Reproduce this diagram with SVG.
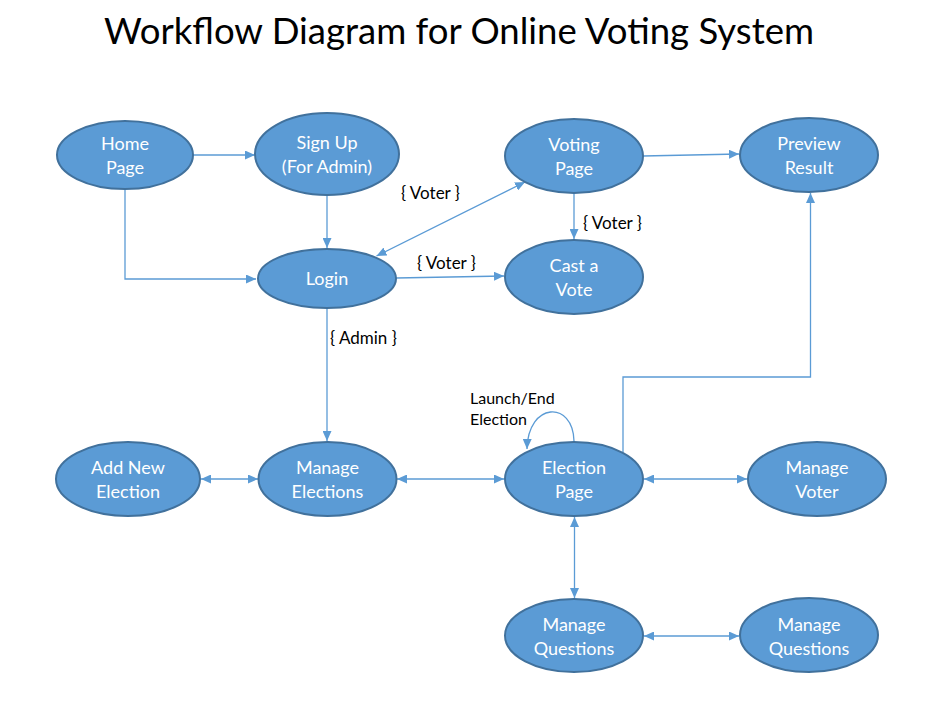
<svg xmlns="http://www.w3.org/2000/svg" width="951" height="715" viewBox="0 0 951 715">
<defs>
<marker id="arr" markerUnits="userSpaceOnUse" markerWidth="11" markerHeight="9" refX="10" refY="4.5" orient="auto-start-reverse" viewBox="0 0 11 9">
<path d="M0,0 L10,4.5 L0,9 z" fill="#5B9BD5"/>
</marker>
<style>
.node ellipse{fill:#5B9BD5;stroke:#41719C;stroke-width:2}
.node text{fill:#fff;font-family:Lato,"Liberation Sans",sans-serif;font-size:18px;text-anchor:middle}
.conn path{fill:none;stroke:#5B9BD5;stroke-width:1.3}
.one{marker-end:url(#arr)}
.two{marker-start:url(#arr);marker-end:url(#arr)}
.lbl{fill:#000;font-family:Lato,"Liberation Sans",sans-serif;font-size:17px}
.lbl2{fill:#000;font-family:Lato,"Liberation Sans",sans-serif;font-size:16px}
.title{fill:#000;font-family:Lato,"Liberation Sans",sans-serif;font-size:36px;text-anchor:middle}
</style>
</defs>
<rect width="951" height="715" fill="#fff"/>
<text class="title" x="459" y="44" textLength="710" lengthAdjust="spacingAndGlyphs">Workflow Diagram for Online Voting System</text>

<g id="connectors" class="conn">
<path class="one" d="M193,155 L255,155"/>
<path class="one" d="M125,189 L125,279 L256,279"/>
<path class="one" d="M327,195 L327,248"/>
<path class="two" d="M376.5,256 L525,182"/>
<path class="one" d="M396,278 L504,276"/>
<path class="one" d="M643,156 L739,154"/>
<path class="one" d="M574,193 L574,239"/>
<path class="one" d="M327,308 L327,441"/>
<path class="two" d="M201,479 L258,479"/>
<path class="two" d="M397,479 L504,479"/>
<path class="two" d="M644,479 L747,479"/>
<path class="two" d="M574.5,517 L574.5,598"/>
<path class="two" d="M644,636 L739,636"/>
<path class="one" d="M623,452 L623,377 L810.5,377 L810.5,193"/>
<path class="one" d="M574,441 C573,400 528,402 527,449"/>
</g>

<g class="lbl">
<text x="401" y="199">{ Voter }</text>
<text x="583" y="229">{ Voter }</text>
<text x="417" y="269">{ Voter }</text>
<text x="330" y="344">{ Admin  }</text>
</g>
<g class="lbl2">
<text x="470" y="404">Launch/End</text>
<text x="470" y="425">Election</text>
</g>

<g id="home" class="node"><ellipse cx="125" cy="155" rx="68" ry="34"/><text x="125" y="150">Home</text><text x="125" y="174">Page</text></g>
<g id="signup" class="node"><ellipse cx="327" cy="154" rx="72" ry="41"/><text x="327" y="149">Sign Up</text><text x="327" y="173">(For Admin)</text></g>
<g id="login" class="node"><ellipse cx="327" cy="278.5" rx="69" ry="29.5"/><text x="327" y="285">Login</text></g>
<g id="voting" class="node"><ellipse cx="574" cy="156" rx="69" ry="37"/><text x="574" y="151">Voting</text><text x="574" y="175">Page</text></g>
<g id="preview" class="node"><ellipse cx="809" cy="155" rx="69" ry="37"/><text x="809" y="150">Preview</text><text x="809" y="174">Result</text></g>
<g id="cast" class="node"><ellipse cx="574" cy="277" rx="69" ry="37"/><text x="574" y="272">Cast a</text><text x="574" y="296">Vote</text></g>
<g id="addnew" class="node"><ellipse cx="128" cy="479" rx="72" ry="37"/><text x="128" y="474">Add New</text><text x="128" y="498">Election</text></g>
<g id="manageelections" class="node"><ellipse cx="327.5" cy="479" rx="69" ry="37"/><text x="327.5" y="474">Manage</text><text x="327.5" y="498">Elections</text></g>
<g id="electionpage" class="node"><ellipse cx="574" cy="479" rx="69" ry="37"/><text x="574" y="474">Election</text><text x="574" y="498">Page</text></g>
<g id="managevoter" class="node"><ellipse cx="817" cy="479" rx="69" ry="37"/><text x="817" y="474">Manage</text><text x="817" y="498">Voter</text></g>
<g id="managequestions1" class="node"><ellipse cx="574" cy="635.5" rx="69" ry="36.5"/><text x="574" y="631">Manage</text><text x="574" y="655">Questions</text></g>
<g id="managequestions2" class="node"><ellipse cx="809" cy="635" rx="69" ry="37"/><text x="809" y="631">Manage</text><text x="809" y="655">Questions</text></g>
</svg>
